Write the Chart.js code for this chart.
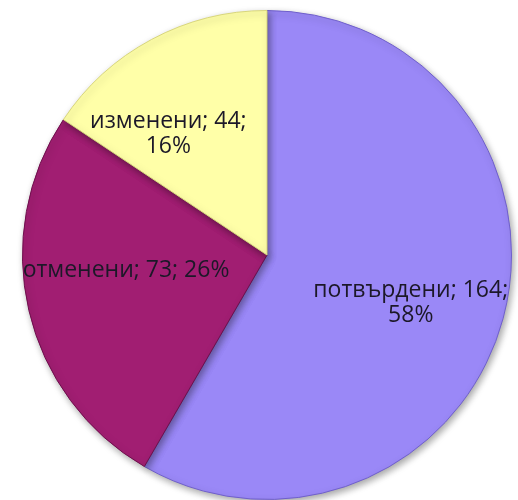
<!DOCTYPE html>
<html>
<head>
<meta charset="utf-8">
<script src="https://cdn.jsdelivr.net/npm/chart.js@4.4.1/dist/chart.umd.min.js"></script>
<style>
html,body{margin:0;padding:0;background:#fff;}
#wrap{width:518px;height:500px;}
</style>
</head>
<body>
<div id="wrap"><canvas id="c" width="518" height="500"></canvas></div>
<script>
const categories = ['потвърдени', 'отменени', 'изменени'];
const values = [164, 73, 44];
const percents = ['58%', '26%', '16%'];
const colors = ['#9A88F7', '#A11E72', '#FFFFA8'];
const borderColors = ['#6F5FCB', '#6E0E4C', '#D8D67C'];

// label layout: [distance fraction of radius, angle shift (rad), line breaks]
const labelLayout = [
  {frac: 0.62, shift: 0.06, lines: (c,v,p) => [c + '; ' + v + ';', p]},
  {frac: 0.58, shift: 0.12, lines: (c,v,p) => [c + '; ' + v + '; ' + p]},
  {frac: 0.64, shift: -0.19, lines: (c,v,p) => [c + '; ' + v + ';', p]}
];

const shadowPlugin = {
  id: 'shadow',
  beforeDatasetsDraw(chart) {
    const ctx = chart.ctx;
    ctx.save();
    ctx.shadowColor = 'rgba(0,0,0,0.35)';
    ctx.shadowBlur = 7;
    ctx.shadowOffsetX = 2;
    ctx.shadowOffsetY = 3;
  },
  afterDatasetsDraw(chart) {
    chart.ctx.restore();
  }
};

const labelPlugin = {
  id: 'sliceLabels',
  afterDatasetsDraw(chart) {
    const ctx = chart.ctx;
    const meta = chart.getDatasetMeta(0);
    ctx.save();
    ctx.shadowColor = 'transparent';
    ctx.font = '23px "Open Sans"';
    ctx.fillStyle = '#1c1828';
    ctx.textAlign = 'center';
    ctx.textBaseline = 'middle';
    meta.data.forEach((arc, i) => {
      const p = arc.getProps(['x','y','startAngle','endAngle','outerRadius'], true);
      const L = labelLayout[i];
      const mid = (p.startAngle + p.endAngle) / 2 + L.shift;
      const r = p.outerRadius * L.frac;
      const cx = p.x + Math.cos(mid) * r;
      const cy = p.y + Math.sin(mid) * r;
      const lines = L.lines(categories[i], values[i], percents[i]);
      const lh = 25;
      lines.forEach((t, k) => {
        ctx.fillText(t, cx, cy + (k - (lines.length - 1) / 2) * lh);
      });
    });
    ctx.restore();
  }
};

new Chart(document.getElementById('c'), {
  type: 'pie',
  data: {
    labels: categories,
    datasets: [{
      data: values,
      backgroundColor: colors,
      borderColor: borderColors,
      borderWidth: 1
    }]
  },
  options: {
    responsive: false,
    animation: false,
    devicePixelRatio: 1,
    layout: {padding: {left: 16, right: 0, top: 10, bottom: -2}},
    plugins: {legend: {display: false}, tooltip: {enabled: false}}
  },
  plugins: [shadowPlugin, labelPlugin]
});
</script>
</body>
</html>
